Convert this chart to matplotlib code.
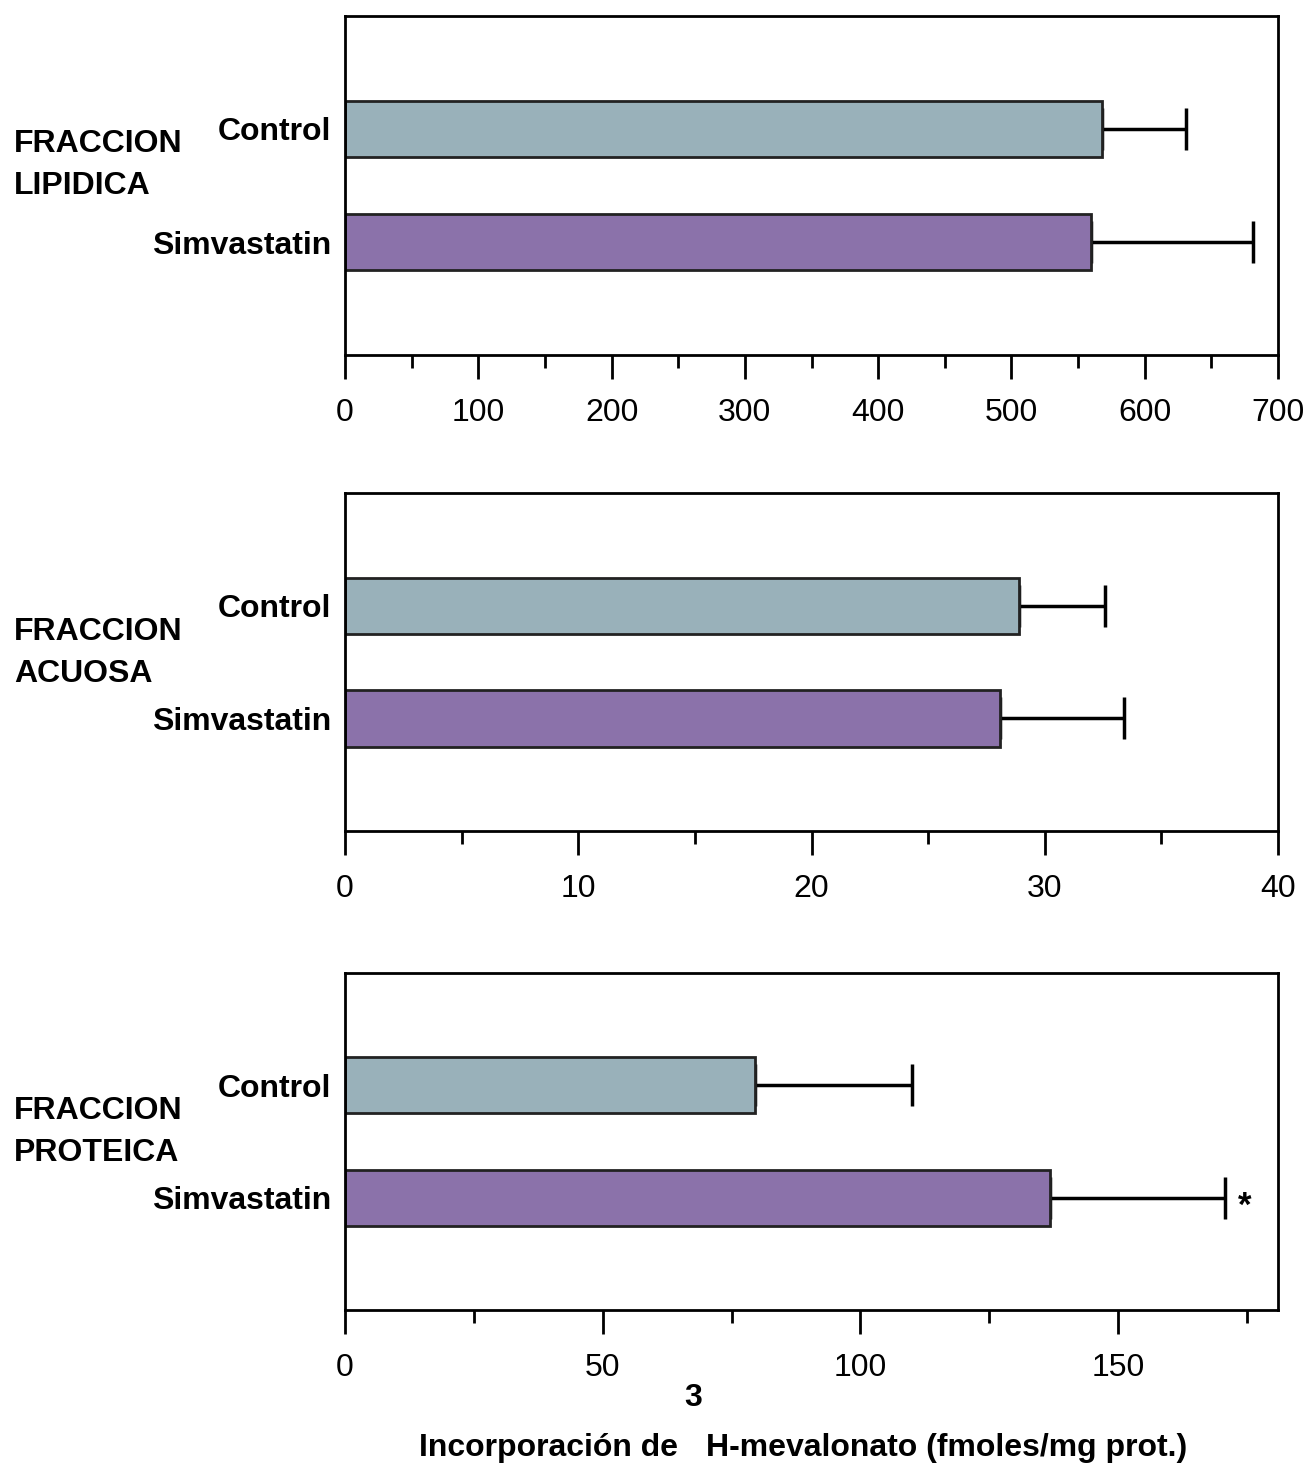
import numpy as np
import matplotlib
matplotlib.use('Agg')
import matplotlib.pyplot as plt
from matplotlib.ticker import MultipleLocator

plt.rcParams['font.family'] = ['Liberation Sans', 'DejaVu Sans']

# datos
categorias = ['Control', 'Simvastatin']
grupos = ['FRACCION\nLIPIDICA', 'FRACCION\nACUOSA', 'FRACCION\nPROTEICA']
medias_lip = [568, 560]
errores_lip = [63, 121]
medias_acu = [28.9, 28.1]
errores_acu = [3.7, 5.3]
medias_prot = [79.5, 136.8]
errores_prot = [30.4, 33.9]
limites_x = [700, 40, 181]
ticks_mayores = [100, 10, 50]
ticks_menores = [50, 5, 25]
significativo = [[False, False], [False, False], [False, True]]

medias = [medias_lip, medias_acu, medias_prot]
errores = [errores_lip, errores_acu, errores_prot]

# colores de las barras
colores = ['#99b1ba', '#8b72aa']

fig = plt.figure(figsize=(13.09, 14.66), dpi=100)

# posiciones de los paneles en pixeles (arriba, abajo)
izq = 345 / 1309
ancho = 933 / 1309
paneles = [(16, 355), (493, 831), (973, 1310)]
centros_grupo = [165, 653, 1132]
alto_fig = 1466

ypos = [1, 0]

for i in range(3):
    top, bot = paneles[i]
    ax = fig.add_axes([izq, 1 - bot / alto_fig, ancho, (bot - top) / alto_fig])
    ax.barh(ypos, medias[i], height=0.5, color=colores, edgecolor='#222222',
            linewidth=2, zorder=2)
    xerr = np.array([np.zeros(2), errores[i]])
    ax.errorbar(medias[i], ypos, xerr=xerr, fmt='none', ecolor='black',
                elinewidth=2.5, capsize=15, capthick=2.5, zorder=1)
    for j in range(2):
        if significativo[i][j]:
            ax.annotate('*', xy=(medias[i][j] + errores[i][j], ypos[j]),
                        xytext=(14, -6), textcoords='offset points',
                        ha='center', va='center', fontsize=25, fontweight='bold')
    ax.set_xlim(0, limites_x[i])
    ax.set_ylim(-1, 2)
    ax.xaxis.set_major_locator(MultipleLocator(ticks_mayores[i]))
    ax.xaxis.set_minor_locator(MultipleLocator(ticks_menores[i]))
    ax.tick_params(axis='x', which='major', length=17, width=2, pad=14,
                   labelsize=23, direction='out')
    ax.tick_params(axis='x', which='minor', length=9, width=2, direction='out')
    ax.set_yticks(ypos)
    ax.set_yticklabels(categorias, fontsize=23, fontweight='bold')
    ax.tick_params(axis='y', length=0, pad=10)
    for s in ax.spines.values():
        s.set_linewidth(2)

    # etiqueta del grupo a la izquierda
    yc = 1 - centros_grupo[i] / alto_fig
    fig.text(14 / 1309, yc, grupos[i], ha='left', va='center', fontsize=23,
             fontweight='bold', linespacing=1.5)

# titulo del eje x con el superindice 3
yb = (alto_fig - 1456) / alto_fig
fig.text(678 / 1309, yb, 'Incorporación de', ha='right', va='baseline',
         fontsize=23, fontweight='bold')
fig.text(693 / 1309, 1 - 1398 / alto_fig, '3', ha='center', va='center',
         fontsize=23, fontweight='bold')
fig.text(706 / 1309, yb, 'H-mevalonato (fmoles/mg prot.)', ha='left',
         va='baseline', fontsize=23, fontweight='bold')

fig.savefig('out.png', dpi=100)
